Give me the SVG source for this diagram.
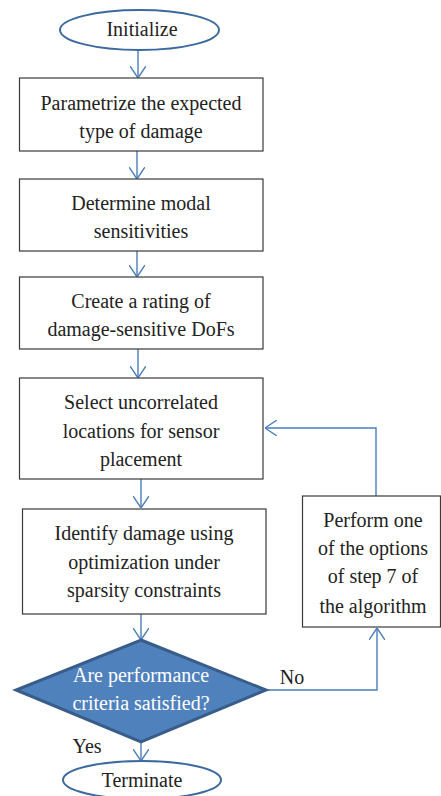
<svg xmlns="http://www.w3.org/2000/svg" width="441" height="796" viewBox="0 0 441 796">
<style>
text{font-family:'Liberation Serif','Times New Roman','DejaVu Serif',serif;font-size:20px;fill:#222;text-anchor:middle}
.box{fill:#fff;stroke:#3a3a3a;stroke-width:1.2}
.term{fill:#fff;stroke:#3d6a9e;stroke-width:2}
.con{fill:none;stroke:#4a7ebb;stroke-width:1.4}
.dia{fill:#4f81bd;stroke:#385d8a;stroke-width:3}
.wt{fill:#fff}
</style>
<defs>
<marker id="ah" viewBox="0 0 12 16" refX="12" refY="8" markerWidth="12" markerHeight="16" markerUnits="userSpaceOnUse" orient="auto">
<path d="M0,0 L12,8 L0,16" fill="none" stroke="#4a7ebb" stroke-width="1.4"/>
</marker>
</defs>
<rect width="441" height="796" fill="#fff"/>
<g id="connectors">
<line class="con" x1="138" y1="50" x2="138" y2="78" marker-end="url(#ah)"/>
<line class="con" x1="137" y1="151" x2="137" y2="179" marker-end="url(#ah)"/>
<line class="con" x1="137" y1="251" x2="137" y2="277" marker-end="url(#ah)"/>
<line class="con" x1="138" y1="349" x2="138" y2="378" marker-end="url(#ah)"/>
<line class="con" x1="141" y1="479" x2="141" y2="508" marker-end="url(#ah)"/>
<line class="con" x1="141" y1="614" x2="141" y2="640" marker-end="url(#ah)"/>
<line class="con" x1="141" y1="742" x2="141" y2="761" marker-end="url(#ah)"/>
<polyline class="con" points="376,496 376,428 265,428" marker-end="url(#ah)"/>
<polyline class="con" points="266,690 377,690 377,628" marker-end="url(#ah)"/>
<text x="292" y="684">No</text>
<text x="87" y="753">Yes</text>
</g>
<g id="initialize">
<ellipse class="term" cx="139.5" cy="30" rx="79.5" ry="20"/>
<text x="142" y="36">Initialize</text>
</g>
<g id="parametrize">
<rect class="box" x="19.5" y="78" width="243.5" height="73"/>
<text x="141" y="110">Parametrize the expected</text>
<text x="141" y="138">type of damage</text>
</g>
<g id="modal">
<rect class="box" x="19.5" y="179" width="243.5" height="72"/>
<text x="141" y="210">Determine modal</text>
<text x="141" y="238">sensitivities</text>
</g>
<g id="rating">
<rect class="box" x="19.5" y="277" width="243.5" height="72"/>
<text x="141" y="308">Create a rating of</text>
<text x="141" y="336">damage-sensitive DoFs</text>
</g>
<g id="select">
<rect class="box" x="19.5" y="378" width="243.5" height="101"/>
<text x="141" y="409">Select uncorrelated</text>
<text x="141" y="438">locations for sensor</text>
<text x="141" y="466">placement</text>
</g>
<g id="identify">
<rect class="box" x="22.5" y="509" width="243.5" height="105"/>
<text x="144" y="540">Identify damage using</text>
<text x="144" y="569">optimization under</text>
<text x="144" y="597">sparsity constraints</text>
</g>
<g id="perform">
<rect class="box" x="302.5" y="496" width="138" height="131"/>
<text x="373" y="527">Perform one</text>
<text x="373" y="555">of the options</text>
<text x="373" y="583">of step 7 of</text>
<text x="373" y="613">the algorithm</text>
</g>
<g id="decision">
<polygon class="dia" points="141,640 266,690 141,742 16,690"/>
<text class="wt" x="141" y="682">Are performance</text>
<text class="wt" x="141" y="710">criteria satisfied?</text>
</g>
<g id="terminate">
<ellipse class="term" cx="142" cy="780" rx="79" ry="19"/>
<text x="142" y="787">Terminate</text>
</g>
</svg>
